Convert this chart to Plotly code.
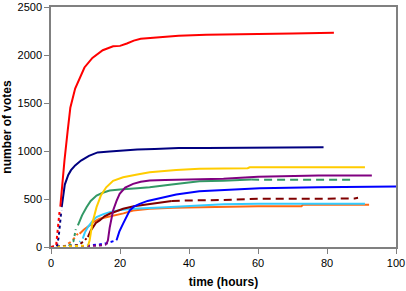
import plotly.graph_objects as go

# ---- data: (time hours, votes) per story, split into segments ----
red_dot_t = [0, 1, 1.5, 2, 2.5]
red_dot_v = [0, 5, 20, 170, 380]
red_t = [2.7, 3.2, 3.9, 4.8, 5.6, 7, 8.5, 9.7, 12, 15, 18, 20, 22, 24, 26, 30, 37, 45, 50, 60, 70, 78, 79, 82]
red_v = [420, 650, 900, 1200, 1450, 1650, 1780, 1870, 1970, 2050, 2090, 2095, 2120, 2150, 2170, 2180, 2200, 2210, 2215, 2220, 2225, 2226, 2233, 2233]

navy_dot_t = [0, 1.7, 2.2, 2.6, 3.0]
navy_dot_v = [0, 5, 100, 250, 380]
navy_t = [3.1, 3.5, 4, 5, 5.8, 7, 8.7, 11, 13.5, 17, 20, 25, 30, 37, 45, 59, 60, 79]
navy_v = [415, 520, 650, 750, 800, 850, 900, 950, 985, 995, 1003, 1015, 1020, 1031, 1031, 1031, 1038, 1038]

yellow_dot_t = [0, 5, 10, 10.8]
yellow_dot_v = [0, 5, 10, 15]
yellow_t = [10.8, 11.2, 12, 13.2, 14.5, 16, 18, 20.9, 25, 28.6, 32, 36.3, 43, 50, 57, 57.6, 91]
yellow_v = [20, 70, 250, 415, 540, 622, 690, 726, 755, 778, 790, 803, 815, 818, 820, 830, 830]

green_dot_t = [0, 5, 6.5, 7.2]
green_dot_v = [0, 5, 60, 185]
green_t = [7.8, 9, 10.3, 11.5, 13.2, 15, 17, 20, 25, 28.6, 35, 43, 50, 58]
green_v = [225, 330, 415, 480, 536, 565, 588, 600, 612, 622, 650, 685, 690, 702]
green_dash_t = [58, 70, 87]
green_dash_v = [702, 700, 700]

purple_dot_t = [0, 5, 10, 14, 16]
purple_dot_v = [0, 5, 10, 15, 25]
purple_t = [16, 16.5, 17, 18, 19, 19.9, 21.5, 23.8, 26, 28.6, 33, 37.3, 43, 50, 60, 77.5, 93]
purple_v = [25, 70, 200, 380, 480, 553, 620, 658, 680, 692, 697, 699, 705, 710, 733, 744, 744]

blue_dot_t = [0, 10, 12, 14, 16, 17.5, 19]
blue_dot_v = [0, 10, 20, 25, 40, 55, 70]
blue_t = [19, 19.8, 20.9, 22, 22.8, 24, 25.7, 28, 30.5, 33, 36.3, 43, 50, 60.5, 77.4, 96.7, 100]
blue_v = [70, 160, 243, 320, 380, 420, 450, 480, 502, 525, 547, 581, 595, 612, 622, 630, 630]

maroon_dot_t = [0, 5, 8, 9.5, 10.3]
maroon_dot_v = [0, 10, 20, 60, 90]
maroon_t = [10.7, 11.5, 12.2, 13, 14.1, 15.5, 17, 19, 20.9, 24, 28.6, 33, 35]
maroon_v = [104, 170, 207, 250, 277, 320, 346, 375, 398, 425, 450, 470, 480]
maroon_dash_t = [35, 38.3, 50, 60, 70, 80, 88, 89]
maroon_dash_v = [480, 484, 490, 502, 502, 502, 505, 512]

orange_dot_t = [0, 4, 6, 7, 7.8]
orange_dot_v = [0, 10, 60, 110, 140]
orange_t = [8.3, 9.5, 11.2, 12.5, 14.1, 16, 19, 21, 23.8, 26, 28.6, 35.4, 43, 50, 60, 72.6, 73, 92.2]
orange_v = [139, 180, 225, 265, 294, 310, 329, 350, 380, 390, 398, 410, 415, 420, 425, 425, 440, 440]

cyan_dot_t = [0, 5, 7.5, 8.5]
cyan_dot_v = [0, 5, 20, 60]
cyan_t = [9.2, 9.8, 10.7, 12, 13.2, 15, 17, 20, 23.8, 28, 33.4, 43, 50, 60, 91]
cyan_v = [87, 150, 207, 270, 311, 340, 363, 385, 398, 408, 415, 432, 445, 450, 450]

x_ticks = [0, 20, 40, 60, 80, 100]
y_ticks = [0, 500, 1000, 1500, 2000, 2500]

fig = go.Figure()

def add(t, v, color, dash="solid"):
    fig.add_trace(go.Scatter(x=t, y=v, mode="lines",
                             line=dict(color=color, width=2, dash=dash),
                             showlegend=False, hoverinfo="skip"))

series = [
    ("#FF6A13", orange_dot_t, orange_dot_v, orange_t, orange_v, None, None),
    ("#33CCFF", cyan_dot_t, cyan_dot_v, cyan_t, cyan_v, None, None),
    ("#800000", maroon_dot_t, maroon_dot_v, maroon_t, maroon_v, maroon_dash_t, maroon_dash_v),
    ("#0000FF", blue_dot_t, blue_dot_v, blue_t, blue_v, None, None),
    ("#339966", green_dot_t, green_dot_v, green_t, green_v, green_dash_t, green_dash_v),
    ("#800080", purple_dot_t, purple_dot_v, purple_t, purple_v, None, None),
    ("#FFCC00", yellow_dot_t, yellow_dot_v, yellow_t, yellow_v, None, None),
    ("#000080", navy_dot_t, navy_dot_v, navy_t, navy_v, None, None),
    ("#FF0000", red_dot_t, red_dot_v, red_t, red_v, None, None),
]
for color, dt, dv, st, sv, et, ev in series:
    add(dt, dv, color, "dot")
    add(st, sv, color)
    if et is not None:
        add(et, ev, color, "8px,5px")

axis_font = dict(family="Liberation Sans, Arial", size=11, color="#000")
fig.update_layout(
    width=406, height=291,
    margin=dict(l=51, r=10, t=7, b=44),
    paper_bgcolor="white", plot_bgcolor="white",
    font=axis_font,
    xaxis=dict(range=[0, 100], tickvals=x_ticks, showgrid=False, zeroline=False,
               showline=True, linecolor="#808080", linewidth=1.5, mirror=True,
               ticks="outside", ticklen=5, tickcolor="#808080", automargin=False,
               ticklabeloverflow="allow",
               title=dict(text="<b>time (hours)</b>", font=dict(size=12), standoff=10)),
    yaxis=dict(range=[0, 2500], tickvals=y_ticks, showgrid=False, zeroline=False,
               showline=True, linecolor="#808080", linewidth=1.5, mirror=True,
               ticks="outside", ticklen=5, tickcolor="#808080", automargin=False,
               ticklabeloverflow="allow",
               title=dict(text="<b>number of votes</b>", font=dict(size=12), standoff=3)),
)
fig.write_html("out.html", config={"displayModeBar": False})

# remove the browser's default page margin so the figure fills the window
with open("out.html", encoding="utf-8") as f:
    html = f.read()
html = html.replace("<head>", "<head><style>html,body{margin:0;padding:0;overflow:hidden}</style>", 1)
with open("out.html", "w", encoding="utf-8") as f:
    f.write(html)
